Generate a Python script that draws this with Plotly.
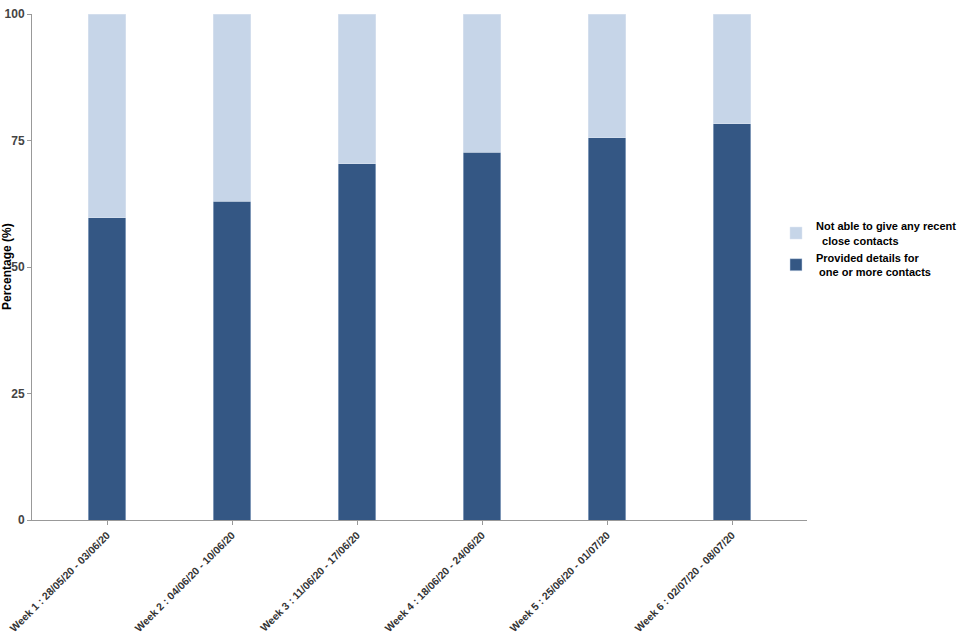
import plotly.graph_objects as go

weeks = [
    "Week 1 : 28/05/20 - 03/06/20",
    "Week 2 : 04/06/20 - 10/06/20",
    "Week 3 : 11/06/20 - 17/06/20",
    "Week 4 : 18/06/20 - 24/06/20",
    "Week 5 : 25/06/20 - 01/07/20",
    "Week 6 : 02/07/20 - 08/07/20",
]
provided = [59.7, 63.0, 70.4, 72.7, 75.5, 78.3]
not_able = [round(100 - v, 1) for v in provided]
y_ticks = [0, 25, 50, 75, 100]

fig = go.Figure()
fig.add_trace(go.Bar(
    x=weeks, y=provided, name="Provided details for<br> one or more contacts",
    marker=dict(color="#345784", line=dict(color="#c6d5e8", width=0.5)),
))
fig.add_trace(go.Bar(
    x=weeks, y=not_able, name="Not able to give any recent<br>  close contacts",
    marker=dict(color="#c6d5e8", line=dict(color="#dfe7f2", width=0.5)),
))

W, H = 960, 640
L, R, T, B = 32, 0, 14, 120
paper_w = W - L - R
plot_right = 807
fig.update_layout(
    barmode="stack",
    bargap=0.70,
    width=W, height=H,
    margin=dict(l=L, r=R, t=T, b=B, autoexpand=False),
    plot_bgcolor="white", paper_bgcolor="white",
    font=dict(family="Liberation Sans, Arial, sans-serif", size=12, color="#333333"),
    legend=dict(
        x=(776 - L) / paper_w, y=0.535, xanchor="left", yanchor="middle",
        traceorder="reversed", tracegroupgap=0,
        font=dict(size=11, color="black", family="Liberation Sans, Arial, sans-serif", weight="bold"),
        itemwidth=30, bgcolor="rgba(0,0,0,0)",
    ),
    xaxis=dict(
        domain=[0, (plot_right - L) / paper_w],
        range=[-0.6, 5.6],
        tickangle=-45,
        automargin=False,
        showline=True, linecolor="#999999", linewidth=1,
        ticks="outside", ticklen=4, tickcolor="#999999",
        tickfont=dict(size=10.5, color="#333333", weight="bold"),
        showgrid=False,
    ),
    yaxis=dict(
        range=[0, 100],
        tickvals=y_ticks,
        automargin=False,
        showline=True, linecolor="#999999", linewidth=1,
        ticks="outside", ticklen=4, tickcolor="#999999",
        tickfont=dict(size=12, color="#444444", weight="bold"),
        showgrid=False, zeroline=False,
    ),
    annotations=[dict(
        text="Percentage (%)", textangle=-90,
        xref="paper", yref="paper", x=(7 - L) / paper_w, y=0.5,
        xanchor="center", yanchor="middle", showarrow=False,
        font=dict(size=12, color="black", weight="bold"),
    )],
)

fig.write_html("out.html", config={"displayModeBar": False},
               post_script="document.body.style.margin='0px';")
